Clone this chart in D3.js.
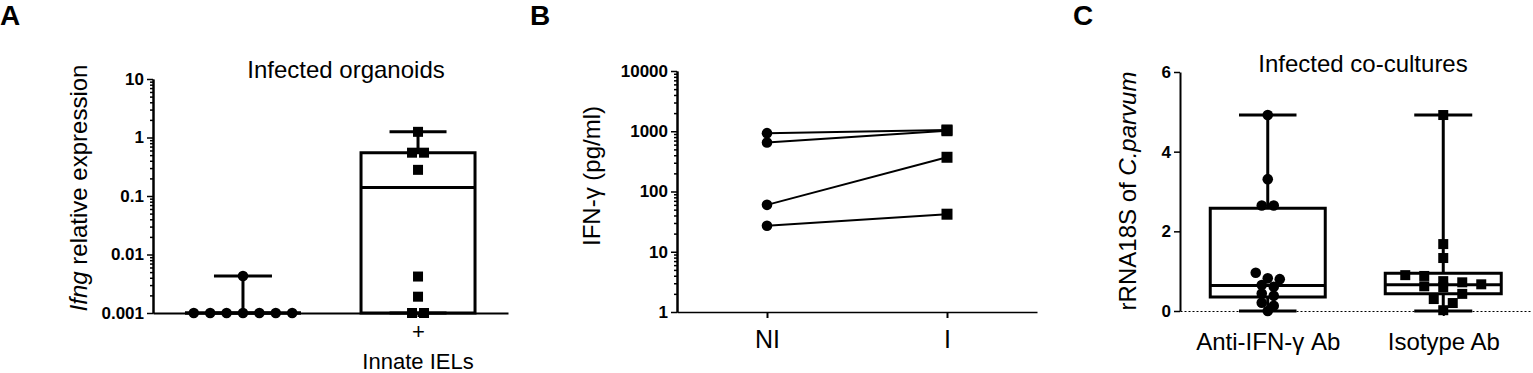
<!DOCTYPE html>
<html>
<head>
<meta charset="utf-8">
<script src="https://cdn.jsdelivr.net/npm/d3@7"></script>
<style>
  body { margin: 0; background: #fff; }
</style>
</head>
<body>
<svg id="fig"></svg>
<script>
// ---- panel A : Ifng expression in infected organoids (log scale)
const aGroups = ["ctrl", "iel"];
const aXLabels = ["", "+"];
const aTickVals = [0.001, 0.01, 0.1, 1, 10];
const aTickLabels = ["0.001", "0.01", "0.1", "1", "10"];
const aCtrl = [0.0043, 0.001, 0.001, 0.001, 0.001, 0.001, 0.001, 0.001];
const aIel = [1.25, 0.55, 0.55, 0.28, 0.0042, 0.0019, 0.001, 0.001];
// box stats: min, q1, median, q3, max
const aCtrlBox = [0.001, 0.001, 0.001, 0.001, 0.0043];
const aIelBox = [0.001, 0.001, 0.14, 0.55, 1.25];

// ---- panel B : IFN-g secretion, paired NI vs I
const bGroups = ["NI", "I"];
const bTickVals = [1, 10, 100, 1000, 10000];
const bTickLabels = ["1", "10", "100", "1000", "10000"];
const bNI = [930, 650, 60, 27];
const bI = [1050, 1020, 370, 42];

// ---- panel C : rRNA18S of C. parvum in co-cultures
const cGroups = ["Anti-IFN-γ Ab", "Isotype Ab"];
const cTickVals = [0, 2, 4, 6];
const cAnti = [4.92, 3.31, 2.65, 2.65, 0.96, 0.82, 0.80, 0.65, 0.61, 0.44, 0.38, 0.21, 0.13, 0.0];
const cIso = [4.92, 1.68, 1.33, 0.90, 0.88, 0.75, 0.72, 0.67, 0.62, 0.60, 0.43, 0.30, 0.20, 0.02];
const cAntiBox = [0, 0.35, 0.64, 2.58, 4.92];
const cIsoBox = [0, 0.43, 0.66, 0.95, 4.92];

const FONT = "Arial, 'Liberation Sans', sans-serif";
const W = 1533, H = 373;

const svg = d3.select("#fig").attr("width", W).attr("height", H)
    .style("font-family", FONT);
svg.append("rect").attr("width", W).attr("height", H).attr("fill", "#fff");

// minor ticks 2..9 of every decade inside a log scale domain
function logMinor(scale) {
  const [lo, hi] = scale.domain();
  const out = [];
  for (let d = Math.log10(lo); d < Math.log10(hi); d++)
    for (let k = 2; k <= 9; k++) out.push(k * Math.pow(10, d));
  return out;
}

// spread points that sit at almost the same height into a centred row
function swarm(vals, y, rowH, gap) {
  const idx = d3.range(vals.length).sort((i, j) => y(vals[i]) - y(vals[j]));
  const off = new Array(vals.length).fill(0);
  let row = [];
  const flush = () => {
    row.forEach((k, n) => off[k] = (n - (row.length - 1) / 2) * gap);
    row = [];
  };
  idx.forEach(k => {
    if (row.length && y(vals[k]) - y(vals[row[0]]) > rowH) flush();
    row.push(k);
  });
  flush();
  return off;
}

function styleY(g, size) {
  g.select(".domain").attr("stroke", "#000").attr("stroke-width", 2);
  g.selectAll(".tick line").attr("stroke", "#000").attr("stroke-width", 1.5);
  g.selectAll(".tick text").attr("fill", "#000")
    .style("font-size", size + "px").style("font-weight", "bold");
}

function yAxis(g, x, scale, vals, labels, isLog) {
  if (isLog) {
    g.append("g").attr("transform", `translate(${x},0)`)
      .call(d3.axisLeft(scale).tickValues(logMinor(scale)).tickSize(3)
        .tickSizeOuter(0).tickFormat(""))
      .call(s => styleY(s, 17));
  }
  g.append("g").attr("transform", `translate(${x},0)`)
    .call(d3.axisLeft(scale).tickValues(vals).tickSize(6).tickSizeOuter(0)
      .tickPadding(3).tickFormat((d, i) => labels[i]))
    .call(s => styleY(s, 17));
}

function boxPlot(g, cx, y, st, w) {
  const [mn, q1, md, q3, mx] = st.map(v => y(v));
  const x0 = cx - w / 2, x1 = cx + w / 2;
  const cap = w / 4;
  g.append("path").attr("d", `M${x0},${q3}H${x1}V${q1}H${x0}Z`)
    .attr("fill", "none").attr("stroke", "#000").attr("stroke-width", 3);
  g.append("line").attr("x1", x0).attr("x2", x1).attr("y1", md).attr("y2", md)
    .attr("stroke", "#000").attr("stroke-width", 3);
  [[q3, mx], [q1, mn]].forEach(([a, b]) => {
    g.append("line").attr("x1", cx).attr("x2", cx).attr("y1", a).attr("y2", b)
      .attr("stroke", "#000").attr("stroke-width", 3);
    g.append("line").attr("x1", cx - cap).attr("x2", cx + cap).attr("y1", b).attr("y2", b)
      .attr("stroke", "#000").attr("stroke-width", 3);
  });
}

function dots(g, vals, cx, y, shape, rowH, gap) {
  const off = swarm(vals, y, rowH, gap);
  vals.forEach((v, i) => {
    if (shape === "circle") {
      g.append("circle").attr("cx", cx + off[i]).attr("cy", y(v)).attr("r", 5.3).attr("fill", "#000");
    } else {
      g.append("rect").attr("x", cx + off[i] - 5).attr("y", y(v) - 5)
        .attr("width", 10).attr("height", 10).attr("fill", "#000");
    }
  });
}

function panelLetter(x, t) {
  svg.append("text").attr("x", x).attr("y", 25).text(t)
    .style("font-size", "28px").style("font-weight", "bold");
}

// =================== panel A
{
  const g = svg.append("g");
  const x = d3.scalePoint().domain(aGroups).range([153, 508]).padding(0.514);
  const y = d3.scaleLog().domain([0.001, 10]).range([313, 79]);

  yAxis(g, 153, y, aTickVals, aTickLabels, true);

  const xa = g.append("g").attr("transform", "translate(0,313)")
    .call(d3.axisBottom(x).tickSize(4).tickSizeOuter(0).tickPadding(6)
      .tickFormat((d, i) => aXLabels[i]));
  xa.select(".domain").attr("stroke", "#000").attr("stroke-width", 2);
  xa.selectAll(".tick line").attr("stroke", "#000").attr("stroke-width", 2);
  xa.selectAll(".tick text").attr("fill", "#000").style("font-size", "22px");

  g.append("text").attr("x", x("iel")).attr("y", 369).attr("text-anchor", "middle")
    .style("font-size", "22px").text("Innate IELs");

  boxPlot(g, x("ctrl"), y, aCtrlBox, 116);
  boxPlot(g, x("iel"), y, aIelBox, 114);
  dots(g, aCtrl, x("ctrl"), y, "circle", 6, 16.4);
  dots(g, aIel, x("iel"), y, "square", 6, 12);

  g.append("text").attr("x", 346).attr("y", 78).attr("text-anchor", "middle")
    .style("font-size", "24px").text("Infected organoids");

  const lab = g.append("text").attr("transform", "translate(87,188) rotate(-90)")
    .attr("text-anchor", "middle").style("font-size", "24px");
  lab.append("tspan").style("font-style", "italic").text("Ifng");
  lab.append("tspan").text(" relative expression");

  panelLetter(0, "A");
}

// =================== panel B
{
  const g = svg.append("g");
  const x = d3.scalePoint().domain(bGroups).range([677, 1037]).padding(0.5);
  const y = d3.scaleLog().domain([1, 10000]).range([312, 71]);

  yAxis(g, 677, y, bTickVals, bTickLabels, true);

  const xa = g.append("g").attr("transform", "translate(0,312)")
    .call(d3.axisBottom(x).tickSize(6).tickSizeOuter(0).tickPadding(12));
  xa.select(".domain").attr("stroke", "#000").attr("stroke-width", 1.5);
  xa.selectAll(".tick line").attr("stroke", "#000").attr("stroke-width", 2);
  xa.selectAll(".tick text").attr("fill", "#000").style("font-size", "25px");

  const line = d3.line().x(d => x(d[0])).y(d => y(d[1]));
  bNI.forEach((v, i) => {
    g.append("path").attr("d", line([["NI", v], ["I", bI[i]]]))
      .attr("fill", "none").attr("stroke", "#000").attr("stroke-width", 2);
  });
  bNI.forEach(v => g.append("circle").attr("cx", x("NI")).attr("cy", y(v))
    .attr("r", 5.3).attr("fill", "#000"));
  bI.forEach(v => g.append("rect").attr("x", x("I") - 5.5).attr("y", y(v) - 5.5)
    .attr("width", 11).attr("height", 11).attr("fill", "#000"));

  g.append("text").attr("transform", "translate(600,176) rotate(-90)")
    .attr("text-anchor", "middle").style("font-size", "24px").text("IFN-γ (pg/ml)");

  panelLetter(530, "B");
}

// =================== panel C
{
  const g = svg.append("g");
  const x = d3.scalePoint().domain(cGroups).range([1180, 1531]).padding(0.5);
  const y = d3.scaleLinear().domain([0, 6]).range([311, 72]);

  yAxis(g, 1180, y, cTickVals, cTickVals.map(String), false);

  const xa = g.append("g").attr("transform", "translate(0,311)")
    .call(d3.axisBottom(x).tickSize(5).tickSizeOuter(0).tickPadding(17));
  xa.select(".domain").attr("stroke", "#000").attr("stroke-width", 1)
    .attr("stroke-dasharray", "2,2");
  xa.selectAll(".tick line").attr("stroke", "#000").attr("stroke-width", 2);
  xa.selectAll(".tick text").attr("fill", "#000").style("font-size", "24px");

  boxPlot(g, x(cGroups[0]), y, cAntiBox, 115);
  boxPlot(g, x(cGroups[1]), y, cIsoBox, 116);
  dots(g, cAnti, x(cGroups[0]), y, "circle", 8, 12);
  dots(g, cIso, x(cGroups[1]), y, "square", 10, 19);

  g.append("text").attr("x", 1363).attr("y", 72).attr("text-anchor", "middle")
    .style("font-size", "24px").text("Infected co-cultures");

  const lab = g.append("text").attr("transform", "translate(1136,191) rotate(-90)")
    .attr("text-anchor", "middle").style("font-size", "24px");
  lab.append("tspan").text("rRNA18S of ");
  lab.append("tspan").style("font-style", "italic").text("C.parvum");

  panelLetter(1073, "C");
}
</script>
</body>
</html>
